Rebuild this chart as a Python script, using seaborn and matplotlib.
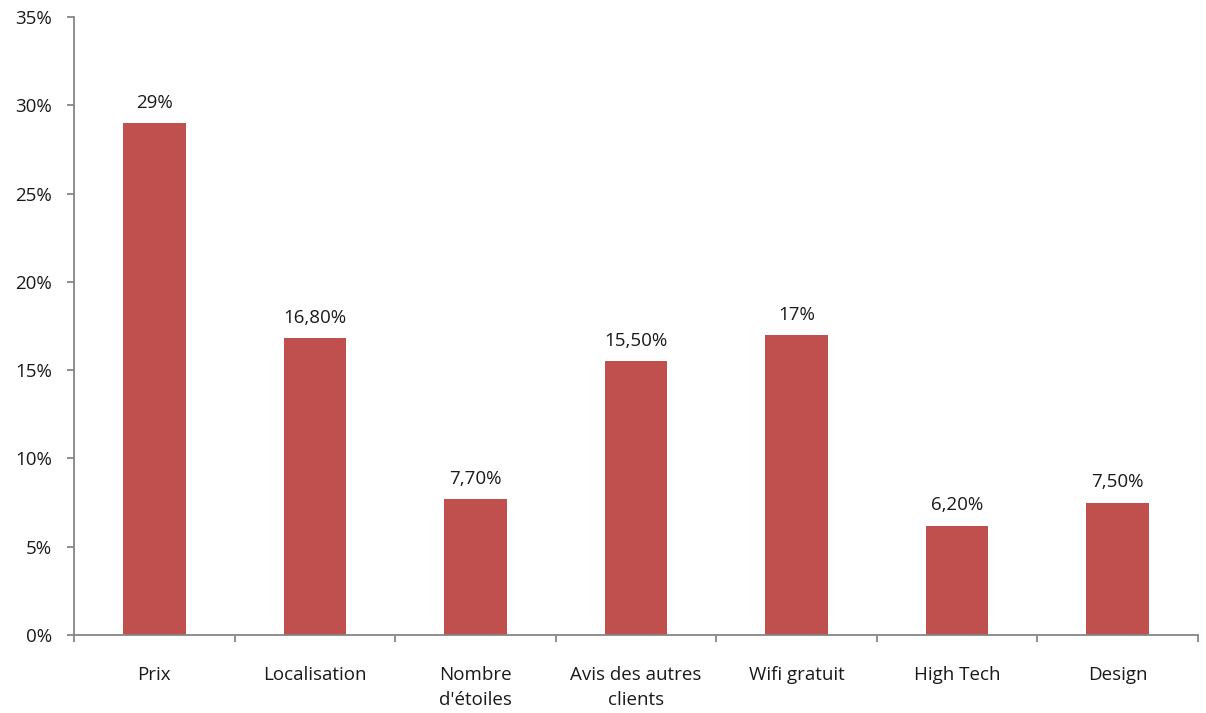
import matplotlib
matplotlib.use("Agg")
import matplotlib.pyplot as plt
import seaborn as sns
import pandas as pd
from matplotlib.ticker import FixedLocator, FuncFormatter

# Critères de choix d'un hôtel
categories = ["Prix", "Localisation", "Nombre\nd'étoiles", "Avis des autres\nclients",
              "Wifi gratuit", "High Tech", "Design"]
values = [29, 16.8, 7.7, 15.5, 17, 6.2, 7.5]
value_labels = ["29%", "16,80%", "7,70%", "15,50%", "17%", "6,20%", "7,50%"]
y_ticks = [0, 5, 10, 15, 20, 25, 30, 35]

sns.set_style("white")
plt.rcParams["font.family"] = ["Open Sans", "DejaVu Sans"]

bar_color = "#C0504D"
axis_color = "#868686"
text_color = "#1a1a1a"
fs = 13.5

df = pd.DataFrame({"critere": categories, "part": values})

fig = plt.figure(figsize=(12.06, 7.13), dpi=100)
ax = fig.add_axes([74 / 1206, 78 / 713, (1198 - 74) / 1206, (635 - 17) / 713])

sns.barplot(data=df, x="critere", y="part", color=bar_color, width=0.39,
            saturation=1, linewidth=0, ax=ax)

ax.set_xlim(-0.5, len(categories) - 0.5)
ax.set_ylim(0, 35)
ax.set_xlabel("")
ax.set_ylabel("")

ax.yaxis.set_major_locator(FixedLocator(y_ticks))
ax.yaxis.set_major_formatter(FuncFormatter(lambda v, _: f"{int(v)}%"))

# category labels without marks, separators as minor ticks
ax.xaxis.set_minor_locator(FixedLocator([i - 0.5 for i in range(len(categories) + 1)]))
ax.tick_params(axis="x", which="major", length=0, pad=22, labelsize=fs,
               labelcolor=text_color)
for lbl in ax.get_xticklabels():
    lbl.set_linespacing(1.55)
ax.tick_params(axis="x", which="minor", length=5, width=1.3, color=axis_color,
               direction="out")
ax.tick_params(axis="y", which="major", length=5, width=1.3, color=axis_color,
               direction="out", pad=11, labelsize=fs, labelcolor=text_color)
ax.tick_params(bottom=True, left=True, which="both")

for side in ["top", "right"]:
    ax.spines[side].set_visible(False)
for side in ["left", "bottom"]:
    ax.spines[side].set_color(axis_color)
    ax.spines[side].set_linewidth(1.3)

for i, (v, lab) in enumerate(zip(values, value_labels)):
    ax.annotate(lab, xy=(i, v), xytext=(0, 8), textcoords="offset points",
                ha="center", va="bottom", fontsize=fs, color=text_color)

fig.savefig("out.png", dpi=100)
